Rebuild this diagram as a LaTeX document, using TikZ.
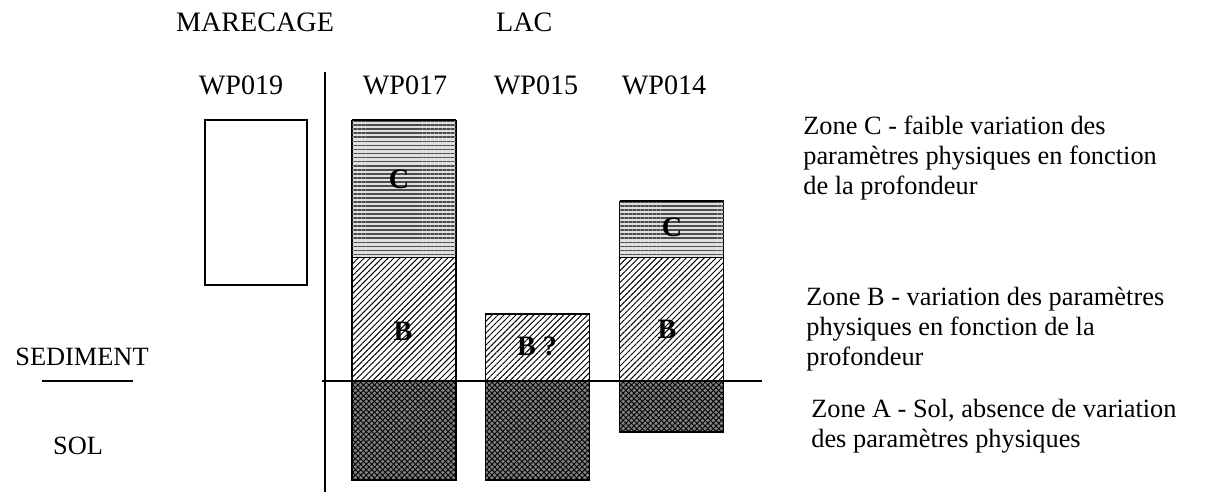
\documentclass[tikz,border=0pt]{standalone}
\usepackage{fontspec}
\setmainfont{Liberation Serif}
\usepackage{tikz}
\usetikzlibrary{positioning, patterns.meta}

\begin{document}
\begin{tikzpicture}[x=0.02cm, y=-0.02cm,
        every node/.style={font=\fontsize{15}{17}\selectfont},
        head/.style={font=\fontsize{16}{18}\selectfont},
        layer/.style={rectangle, draw, line width=0.6pt, inner sep=0pt, outer sep=0pt, minimum width=2.08cm},
        zoneC/.style={layer, fill=black!12, postaction={pattern={Lines[angle=0, distance=2.3pt, line width=1pt]}, pattern color=black!70}},
        zoneB/.style={layer, fill=white, postaction={pattern={Lines[angle=45, distance=2.4pt, line width=0.55pt]}}},
        zoneA/.style={layer, fill=black!50, postaction={pattern={Lines[angle=45, distance=2.2pt, line width=0.5pt]}}, postaction={pattern={Lines[angle=-45, distance=2.2pt, line width=0.5pt]}}},
        tag/.style={inner sep=0pt, font=\fontsize{16}{18}\selectfont\bfseries},
        note/.style={anchor=north west, align=left, inner sep=0pt}]
        \useasboundingbox (0,0) rectangle (1213,497);

        % en-tetes
        \node (marecage) [head, anchor=west] at (170,22) {MARECAGE};
        \node (lac) [head, anchor=west] at (490,22) {LAC};
        \node (wp19) [head] at (241,85) {WP019};
        \node (wp17) [head] at (405,85) {WP017};
        \node (wp15) [head] at (536,85) {WP015};
        \node (wp14) [head] at (664,85) {WP014};

        % separation marecage / lac
        \coordinate (sepTop) at (325,72);
        \coordinate (sepBot) at (325,492);
        \draw[line width=0.6pt] (sepTop) -- (sepBot);

        % carotte du marecage
        \node (box19) [layer, minimum width=2.04cm, minimum height=3.3cm] at (256,202.5) {};

        % WP017
        \node (a17) [zoneA, anchor=north, minimum height=1.98cm] at (404,381) {};
        \node (b17) [zoneB, above=0pt of a17, minimum height=2.48cm] {};
        \node (c17) [zoneC, above=0pt of b17, minimum height=2.74cm] {};
        \draw[line width=1pt] (c17.north west) -- (c17.north east);

        % WP015
        \node (a15) [zoneA, anchor=north, minimum height=1.98cm] at (537.5,381) {};
        \node (b15) [zoneB, above=0pt of a15, minimum height=1.34cm] {};

        % WP014
        \node (a14) [zoneA, anchor=north, minimum height=1.02cm] at (671.5,381) {};
        \node (b14) [zoneB, above=0pt of a14, minimum height=2.48cm] {};
        \node (c14) [zoneC, above=0pt of b14, minimum height=1.12cm] {};
        \draw[line width=1.4pt] (c14.north west) -- (c14.north east);

        % lettres des zones
        \node (tc17) [tag] at (399,179) {C};
        \node (tb17) [tag] at (403,331) {B};
        \node (tb15) [tag] at (537,346) {B ?};
        \node (tc14) [tag] at (672,227) {C};
        \node (tb14) [tag] at (667,329) {B};

        % limite sediment / sol
        \coordinate (limL) at (322,381);
        \coordinate (limR) at (762,381);
        \draw[line width=0.6pt] (limL) -- (limR);

        \node (sediment) at (82,357) {SEDIMENT};
        \node (sol) at (78,446) {SOL};
        \draw[line width=0.6pt] (42,381) coordinate (legL) -- (133,381) coordinate (legR);

        % legende
        \node (zoneCtxt) [note] at (803,116) {Zone C - faible variation des\\paramètres physiques en fonction\\de la profondeur};
        \node (zoneBtxt) [note] at (806,287) {Zone B - variation des paramètres\\physiques en fonction de la\\profondeur};
        \node (zoneAtxt) [note] at (811,399) {Zone A - Sol, absence de variation\\des paramètres physiques};
    \end{tikzpicture}
\end{document}
